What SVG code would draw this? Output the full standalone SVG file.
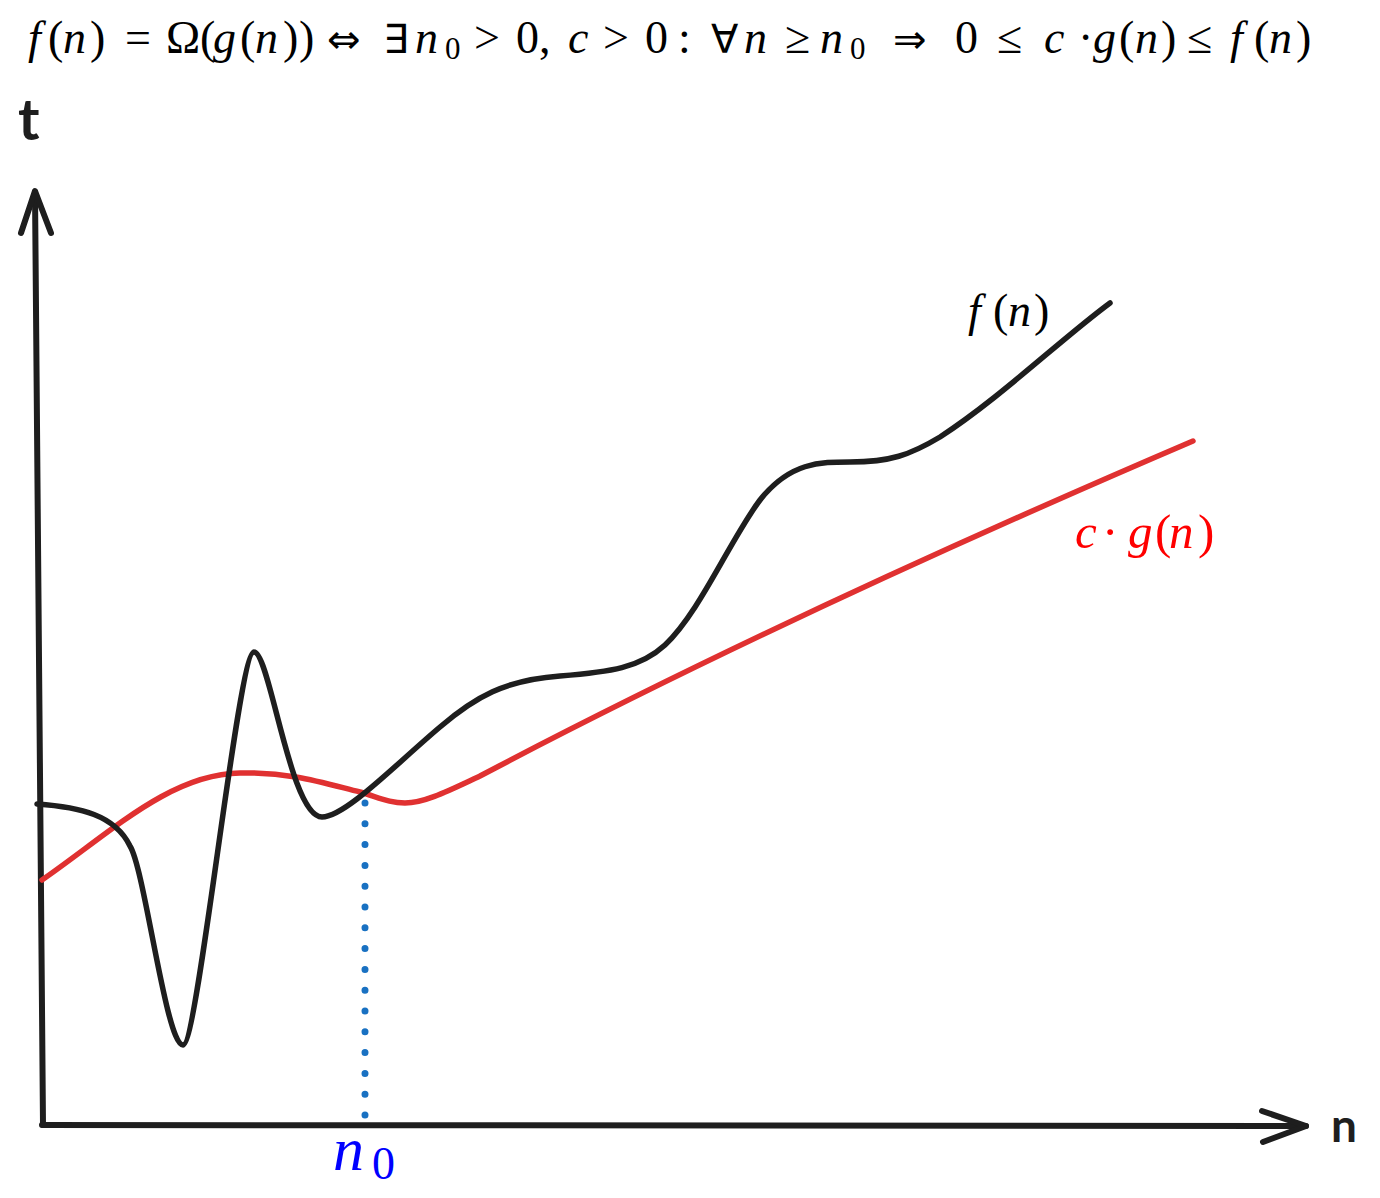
<svg xmlns="http://www.w3.org/2000/svg" width="1380" height="1198" viewBox="0 0 1380 1198">
<style>
.ax{fill:none;stroke:#1e1e1e;stroke-width:6;stroke-linecap:round;stroke-linejoin:round}
.fn{fill:none;stroke:#1e1e1e;stroke-width:5.5;stroke-linecap:round;stroke-linejoin:round}
.gn{fill:none;stroke:#e03131;stroke-width:5.5;stroke-linecap:round;stroke-linejoin:round}
.dot{fill:none;stroke:#1971c2;stroke-width:7;stroke-linecap:round;stroke-dasharray:0 20.8}
.m{font-family:"Liberation Serif","DejaVu Serif",serif;font-size:46px;fill:#000}
.i{font-style:italic}
.s{font-family:"DejaVu Sans",sans-serif;font-size:40px}
.sub{font-size:31px}
.hand{font-family:"Lato","Noto Sans",sans-serif;font-weight:bold;fill:#1e1e1e}
</style>
<rect width="1380" height="1198" fill="#fff"/>
<g id="formula">
<text class="m" y="53"><tspan x="28" class="i">f</tspan><tspan x="48">(</tspan><tspan x="63" class="i">n</tspan><tspan x="90">)</tspan><tspan x="125">=</tspan><tspan x="166">Ω</tspan><tspan x="200">(</tspan><tspan x="213" class="i">g</tspan><tspan x="240">(</tspan><tspan x="255" class="i">n</tspan><tspan x="283">)</tspan><tspan x="299">)</tspan><tspan x="327" class="s">⇔</tspan><tspan x="383" class="s">∃</tspan><tspan x="415" class="i">n</tspan><tspan x="445" dy="6" class="sub">0</tspan><tspan x="474" dy="-6">&gt;</tspan><tspan x="516">0,</tspan><tspan x="568" class="i">c</tspan><tspan x="603">&gt;</tspan><tspan x="645">0</tspan><tspan x="678">:</tspan><tspan x="711" class="s">∀</tspan><tspan x="744" class="i">n</tspan><tspan x="785">≥</tspan><tspan x="820" class="i">n</tspan><tspan x="850" dy="6" class="sub">0</tspan><tspan x="893" dy="-6" class="s">⇒</tspan><tspan x="955">0</tspan><tspan x="997">≤</tspan><tspan x="1044" class="i">c</tspan><tspan x="1078">·</tspan><tspan x="1093" class="i">g</tspan><tspan x="1119">(</tspan><tspan x="1135" class="i">n</tspan><tspan x="1161">)</tspan><tspan x="1187">≤</tspan><tspan x="1230" class="i">f</tspan><tspan x="1254">(</tspan><tspan x="1269" class="i">n</tspan><tspan x="1296">)</tspan></text>
</g>
<g id="connectors">
<g id="y-axis">
<path class="ax" d="M43,1125 L35,192"/>
<path class="ax" d="M21,233 L35,191 L51,233"/>
</g>
<g id="x-axis">
<path class="ax" d="M42,1125 L1306,1126"/>
<path class="ax" d="M1262,1111 L1306,1126 L1263,1142"/>
</g>
<path id="n0-line" class="dot" d="M365,803 L365,1118"/>
</g>
<g id="g-curve">
<path class="gn" d="M42,880 C110,833 170,774 240,773 C290,772 320,782 360,792 C380,798 390,803 405,803 C425,803 450,790 480,776 C700,660 950,545 1193,441"/>
</g>
<g id="f-curve">
<path class="fn" d="M37,804 C80,807 115,815 130,846 C145,870 166,1045 183,1045 C198,1045 238,652 254,652 C270,652 290,817 322,817 C345,817 395,765 440,727 C475,697 505,680 560,676 C610,672 640,668 665,645 C700,612 730,540 760,500 C790,462 820,462 850,462 C890,462 910,455 940,437 C1000,398 1060,340 1110,303"/>
</g>
<g id="labels">
<text id="t-label" class="hand" x="18" y="140" font-size="58">t</text>
<text id="n-label" class="hand" x="1331" y="1142" font-size="46">n</text>
<text id="f-label" class="m" y="326"><tspan x="968" class="i">f</tspan><tspan x="993">(</tspan><tspan x="1008" class="i">n</tspan><tspan x="1034">)</tspan></text>
<text id="cg-label" class="m" y="548" style="font-size:49px;fill:#ff0000"><tspan x="1075" class="i">c</tspan><tspan x="1102">·</tspan><tspan x="1128" class="i">g</tspan><tspan x="1155">(</tspan><tspan x="1169" class="i">n</tspan><tspan x="1198">)</tspan></text>
<text id="n0-label" style="font-family:'Liberation Serif','DejaVu Serif',serif;fill:#0000ff"><tspan x="333" y="1170" font-size="62" font-style="italic">n</tspan><tspan x="372" y="1179" font-size="46">0</tspan></text>
</g>
</svg>
